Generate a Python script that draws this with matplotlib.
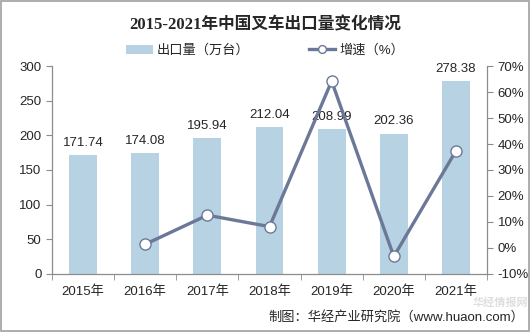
import matplotlib
matplotlib.use("Agg")
import matplotlib.pyplot as plt
import numpy as np

plt.rcParams['font.family'] = ['Liberation Sans', 'Noto Sans CJK SC', 'DejaVu Sans']

years = ['2015年', '2016年', '2017年', '2018年', '2019年', '2020年', '2021年']
exports = [171.74, 174.08, 195.94, 212.04, 208.99, 202.36, 278.38]
growth = [None, 1.4, 12.6, 8.2, 64.2, -3.3, 37.4]

bar_color = '#B7D2E3'
line_color = '#6C7897'
axis_color = '#8C8C8C'
text_color = '#262626'

fig = plt.figure(figsize=(5.3, 3.32), dpi=100)
ax = fig.add_axes([0.098, 0.175, 0.821, 0.626])
ax2 = ax.twinx()

x = np.arange(len(years))
ax.bar(x, exports, width=0.45, color=bar_color, zorder=1, label='出口量（万台）')
for xi, v in zip(x, exports):
    ax.text(xi, v + 9, f'{v:.2f}', ha='center', va='bottom', fontsize=9.5,
            color=text_color)

gx = [xi for xi, g in zip(x, growth) if g is not None]
gy = [g for g in growth if g is not None]
ax2.plot(gx, gy, color=line_color, lw=2.4, marker='o', ms=8,
         mfc='white', mec=line_color, mew=1.0, zorder=3, label='增速（%）')

ax.set_xlim(-0.5, len(years) - 0.5)
ax.set_ylim(0, 300)
ax.set_yticks(np.arange(0, 301, 50))
ax2.set_ylim(-10, 70)
ax2.set_yticks(np.arange(-10, 71, 10))
ax2.set_yticklabels([f'{v}%' for v in range(-10, 71, 10)])

ax.set_xticks(x)
ax.set_xticklabels(years)
ax.set_xticks(np.arange(-0.5, len(years), 1), minor=True)
ax.tick_params(axis='x', which='major', length=0, pad=8, labelsize=9.5, labelcolor=text_color)
ax.tick_params(axis='x', which='minor', length=4, color=axis_color)
ax.tick_params(axis='y', length=4, color=axis_color, labelsize=9.5, labelcolor=text_color)
ax2.tick_params(axis='y', length=4, color=axis_color, labelsize=9.5, labelcolor=text_color)

for a in (ax, ax2):
    a.spines['top'].set_visible(False)
    for s in ('left', 'right', 'bottom'):
        a.spines[s].set_color(axis_color)
        a.spines[s].set_linewidth(0.9)
ax.spines['right'].set_visible(False)
ax2.spines['left'].set_visible(False)
ax2.spines['bottom'].set_visible(False)
ax.set_zorder(1)
ax2.set_zorder(2)
ax.patch.set_visible(False)

fig.text(0.5, 0.925, '2015-2021年中国叉车出口量变化情况', ha='center', va='center',
         fontsize=12, fontweight='bold', color=text_color,
         family=['Liberation Serif', 'Noto Sans CJK SC'])

h1, l1 = ax.get_legend_handles_labels()
h2, l2 = ax2.get_legend_handles_labels()
leg = fig.legend(h1 + h2, l1 + l2, loc='center', bbox_to_anchor=(0.5, 0.848), ncol=2,
                 frameon=False, fontsize=9.5, handlelength=2.0, columnspacing=4.5,
                 handletextpad=0.3, markerscale=0.7)
for t in leg.get_texts():
    t.set_color(text_color)

fig.text(0.99, 0.045, '制图：华经产业研究院（www.huaon.com）', ha='right', va='center',
         fontsize=9.5, color=text_color)
fig.text(0.945, 0.088, '华经情报网', ha='center', va='center', fontsize=8,
         fontweight='bold', color='#C8C8C8', alpha=0.6)

fig.patches.append(plt.Rectangle((0.001, 0.002), 0.997, 0.995, transform=fig.transFigure,
                                 fill=False, edgecolor='#A0A0A0', lw=1.2))

fig.savefig('out.png', dpi=100)
